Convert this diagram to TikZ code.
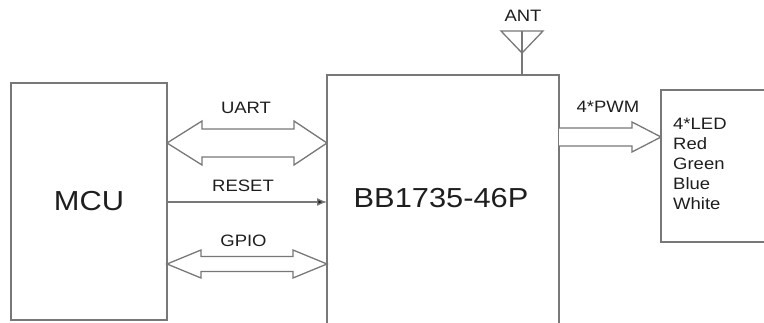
\documentclass[tikz,border=0pt]{standalone}
\usepackage{fontspec}
\setmainfont[FakeStretch=1.12]{Liberation Sans}
\usetikzlibrary{arrows.meta,calc}
\definecolor{linegray}{RGB}{120,120,120}
\definecolor{inkgray}{RGB}{30,30,30}
\tikzset{
  wire/.style={draw=linegray,line width=1.3pt},
  blockbox/.style={wire,rectangle,inner sep=0pt,outer sep=0pt},
  bus/.style={wire,fill=white,line join=miter},
  sig/.style={font=\fontsize{16.5}{20}\selectfont,text=inkgray},
  big/.style={font=\fontsize{27.5}{30}\selectfont,text=inkgray}
}
\begin{document}
\begin{tikzpicture}[x=1pt,y=-1pt]
  \useasboundingbox (0,0) rectangle (764,323);
  \clip (0,0) rectangle (764,323);
  % the three blocks
  \node[blockbox,big,minimum width=156pt,minimum height=237pt] (mcu) at (89,201.5) {MCU};
  \node[blockbox,minimum width=232pt,minimum height=270pt] (bb) at (443,210) {};
  \node[big] (bb-lbl) at (441,198) {BB1735-46P};
  \node[blockbox,minimum width=130pt,minimum height=152pt] (led) at (726,166) {};
  \node[sig,anchor=north west,align=left,inner sep=0pt] (led-lbl) at (673,118)
    {4*LED\\Red\\Green\\Blue\\White};
  % antenna
  \coordinate (ant-foot) at (522,75);
  \draw[wire] (ant-foot) -- ++(0,-44);
  \draw[wire] (ant-foot) ++(-21,-44) -- ++(42,0) -- ++(-21,22) -- cycle;
  \node[sig] (ant-lbl) at (523,16) {ANT};
  % UART, two way
  \coordinate (uart-l) at (mcu.east |- 0,143);
  \coordinate (uart-r) at (bb.west |- 0,143);
  \draw[bus] (uart-l) -- ++(35,-22) -- ++(0,8) -- ++(92,0) -- ++(0,-8) -- (uart-r)
    -- ++(-33,22) -- ++(0,-8) -- ++(-92,0) -- ++(0,8) -- cycle;
  \node[sig] (uart-lbl) at (246,108) {UART};
  % RESET
  \coordinate (reset-l) at (mcu.east |- 0,202);
  \coordinate (reset-r) at (bb.west |- 0,202);
  \draw[wire,-{Latex[length=10pt,width=8pt,fill=inkgray]}] (reset-l) -- (reset-r);
  \node[sig] (reset-lbl) at (243,186) {RESET};
  % GPIO, two way
  \coordinate (gpio-l) at (mcu.east |- 0,264);
  \coordinate (gpio-r) at (bb.west |- 0,264);
  \draw[bus] (gpio-l) -- ++(34,-14) -- ++(0,6.5) -- ++(92,0) -- ++(0,-6.5) -- (gpio-r)
    -- ++(-34,14) -- ++(0,-6.5) -- ++(-92,0) -- ++(0,6.5) -- cycle;
  \node[sig] (gpio-lbl) at (243.5,241) {GPIO};
  % PWM out to the LEDs
  \coordinate (pwm-t) at (led.west |- 0,137);
  \draw[bus] ($(pwm-t)+(-102,-9)$) -- ++(73,0) -- ++(0,-6) -- (pwm-t)
    -- ++(-29,15) -- ++(0,-6) -- ++(-73,0);
  \node[sig] (pwm-lbl) at (608,107) {4*PWM};
\end{tikzpicture}
\end{document}
